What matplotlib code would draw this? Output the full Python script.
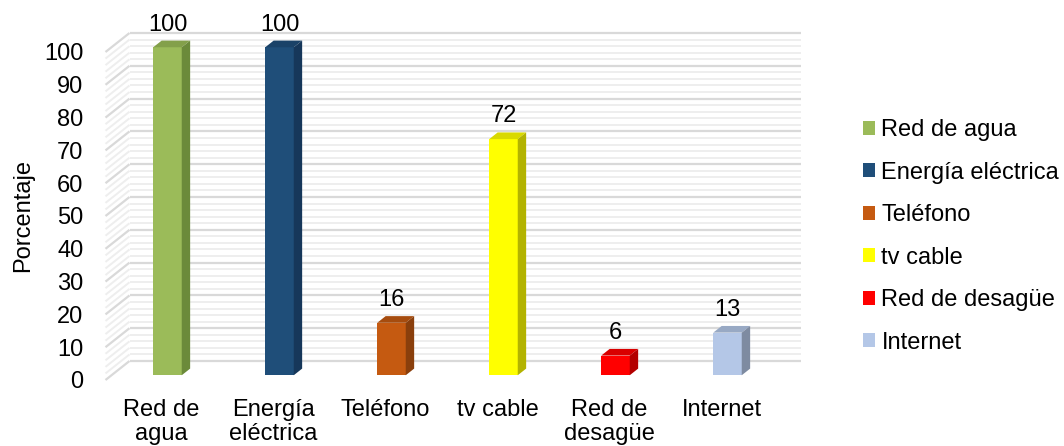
import matplotlib
matplotlib.use("Agg")
import matplotlib.pyplot as plt
from matplotlib.patches import Polygon, Rectangle, Patch

# Data
categories = ["Red de agua", "Energía eléctrica", "Teléfono", "tv cable",
              "Red de desagüe", "Internet"]
tick_labels = ["Red de\nagua", "Energía\neléctrica", "Teléfono", "tv cable",
               "Red de\ndesagüe", "Internet"]
values = [100, 100, 16, 72, 6, 13]
y_ticks = [0, 10, 20, 30, 40, 50, 60, 70, 80, 90, 100]

front_colors = ["#9BBB59", "#1F4E79", "#C55A11", "#FFFF00", "#FF0000", "#B4C7E7"]
top_colors = ["#83A04A", "#1A4268", "#A64C0E", "#D9D900", "#D90000", "#98A9C4"]
side_colors = ["#6B8A3A", "#16375A", "#8A3F0C", "#B3B300", "#B30000", "#7E8BA1"]

W, H, DPI = 1064, 446, 100
fig = plt.figure(figsize=(W / DPI, H / DPI), dpi=DPI)
plt.rcParams["font.family"] = ["Liberation Sans", "DejaVu Sans"]
FS = 17

# front plane of the 3-D box in pixels
left_px, right_px = 105.5, 777.5
bottom_px, top_px = 380.0, 52.0
ax = fig.add_axes([left_px / W, 1 - bottom_px / H,
                   (right_px - left_px) / W, (bottom_px - top_px) / H])
ax.set_xlim(-0.5, len(categories) - 0.5)
ax.set_ylim(0, 100)
for s in ax.spines.values():
    s.set_visible(False)
ax.patch.set_alpha(0)

# depth of the box in data units
px_x = (right_px - left_px) / len(categories)
px_y = (bottom_px - top_px) / 100.0
DX = 24 / px_x
DY = 19 / px_y

x0, x1 = -0.5, len(categories) - 0.5

# back wall and side wall grid
for v in range(0, 101, 2):
    major = v % 10 == 0
    col = "#D9D9D9" if major else "#EEEEEE"
    lw = 1.6 if major else 1.4
    z = 1 if major else 0.5
    ax.plot([x0 + DX, x1 + DX], [v + DY, v + DY], color=col, lw=lw,
            clip_on=False, zorder=z, solid_capstyle="butt")
    ax.plot([x0, x0 + DX], [v, v + DY], color=col, lw=lw,
            clip_on=False, zorder=z, solid_capstyle="butt")

# 3-D columns
bw = 28.5 / px_x
d0, dd = 0.25, 0.35
for i, v in enumerate(values):
    bx = i - bw / 2 + d0 * DX
    by = d0 * DY
    ox, oy = dd * DX, dd * DY
    ax.add_patch(Rectangle((bx, by), bw, v, facecolor=front_colors[i],
                           edgecolor="none", clip_on=False, zorder=3))
    ax.add_patch(Polygon([(bx, by + v), (bx + bw, by + v),
                          (bx + bw + ox, by + v + oy), (bx + ox, by + v + oy)],
                         closed=True, facecolor=top_colors[i],
                         edgecolor="none", clip_on=False, zorder=3))
    ax.add_patch(Polygon([(bx + bw, by), (bx + bw + ox, by + oy),
                          (bx + bw + ox, by + v + oy), (bx + bw, by + v)],
                         closed=True, facecolor=side_colors[i],
                         edgecolor="none", clip_on=False, zorder=3))
    ax.text(bx + bw / 2, v + (d0 + dd) * DY + 10 / px_y, f"{v}",
            ha="center", va="baseline", fontsize=FS, color="black",
            clip_on=False, zorder=4)

ax.set_xticks(range(len(categories)))
ax.set_xticklabels(tick_labels, fontsize=FS, linespacing=1.12)
ax.set_yticks(y_ticks)
ax.set_yticklabels([str(t) for t in y_ticks], fontsize=FS)
ax.tick_params(axis="x", length=0, pad=14)
ax.tick_params(axis="y", length=0, pad=16)

fig.text(23 / W, 1 - 215 / H, "Porcentaje", rotation=90, ha="center",
         va="center", fontsize=FS)

handles = [Patch(facecolor=c, edgecolor="none") for c in front_colors]
fig.legend(handles, categories, loc="upper left",
           bbox_to_anchor=(863 / W, 1 - 119 / H), frameon=False,
           fontsize=FS, handlelength=0.52, handleheight=0.52,
           handletextpad=0.26, labelspacing=0.87, borderpad=0,
           borderaxespad=0)

fig.savefig("out.png", dpi=DPI)
